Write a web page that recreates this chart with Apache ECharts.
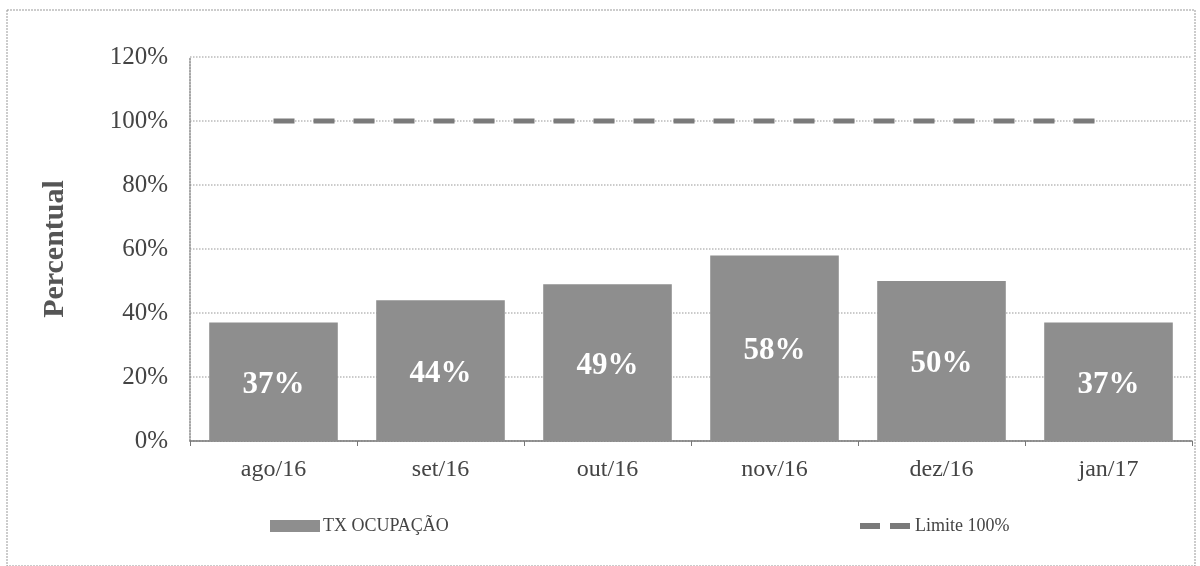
<!DOCTYPE html>
<html><head><meta charset="utf-8">
<script src="https://cdn.jsdelivr.net/npm/echarts@6/dist/echarts.min.js"></script>
<style>html,body{margin:0;padding:0;background:#fff}#c{width:1200px;height:566px}</style>
</head><body><div id="c"></div>
<script>
const categories = ['ago/16','set/16','out/16','nov/16','dez/16','jan/17'];
const txOcupacao = [37, 44, 49, 58, 50, 37];
const limite = [100, 100, 100, 100, 100, 100];
const yTicks = [0, 20, 40, 60, 80, 100, 120];

const chart = echarts.init(document.getElementById('c'));
const serif = '"Liberation Serif", "DejaVu Serif", serif';
chart.setOption({
  animation: false,
  backgroundColor: '#fff',
  grid: {left: 190, right: 8, top: 57, bottom: 125},
  graphic: [{type: 'rect', shape: {x: 7, y: 10, width: 1188, height: 556}, style: {fill: 'none', stroke: '#999', lineWidth: 1, lineDash: [2, 1]}, silent: true}],
  legend: [
    {
      left: 265, top: 512, itemWidth: 50, itemHeight: 12, itemGap: 4,
      textStyle: {fontFamily: serif, fontSize: 18, color: '#444', padding: [0, 0, 0, -2]},
      data: [{name: 'TX OCUPAÇÃO', icon: 'rect'}]
    },
    {
      left: 855, top: 512, itemWidth: 50, itemHeight: 6,
      textStyle: {fontFamily: serif, fontSize: 18, color: '#444'},
      data: [{name: 'Limite 100%', icon: 'path://M0,0h20v6h-20z M30,0h20v6h-20z', itemStyle: {color: '#7a7a7a'}}]
    }
  ],
  xAxis: {
    type: 'category', data: categories,
    axisLine: {lineStyle: {color: '#777', width: 1.5}},
    axisTick: {show: true, length: 5, lineStyle: {color: '#777'}},
    axisLabel: {fontFamily: serif, fontSize: 24, color: '#444', margin: 17}
  },
  yAxis: {
    type: 'value', min: 0, max: 120, interval: 20,
    name: 'Percentual', nameLocation: 'middle', nameGap: 120, nameRotate: 90,
    nameTextStyle: {fontFamily: serif, fontSize: 30, fontWeight: 'bold', color: '#555'},
    axisLine: {show: true, lineStyle: {color: '#888', type: 'dotted', width: 1.5}},
    axisTick: {show: false},
    axisLabel: {fontFamily: serif, fontSize: 25, color: '#444', margin: 22,
      formatter: v => yTicks.includes(v) ? v + '%' : ''},
    splitLine: {lineStyle: {color: '#bbb', type: 'dotted', width: 1.5}}
  },
  series: [
    {
      name: 'TX OCUPAÇÃO', type: 'bar', data: txOcupacao, barWidth: '77%',
      itemStyle: {color: '#8e8e8e'},
      label: {show: true, position: 'inside', formatter: '{c}%', color: '#fff',
        fontFamily: serif, fontSize: 31, fontWeight: 'bold', offset: [0, 3]}
    },
    {
      name: 'Limite 100%', type: 'line', data: limite, symbol: 'none',
      lineStyle: {color: '#7a7a7a', width: 5, type: [21, 19]},
      itemStyle: {color: '#7a7a7a'}
    }
  ]
});
</script></body></html>
